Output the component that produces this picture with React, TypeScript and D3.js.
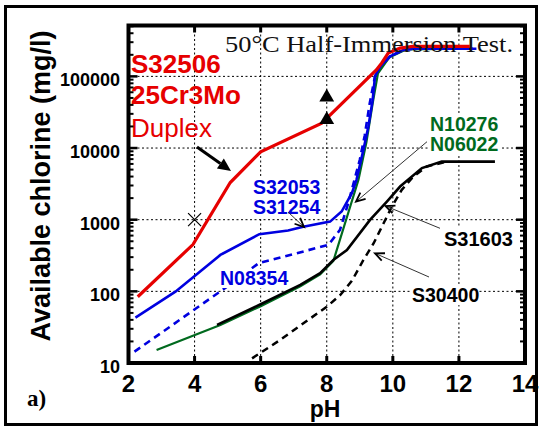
import React from "react";
import * as d3 from "d3";

// ---------- data ----------
const X_TICKS = [2, 4, 6, 8, 10, 12, 14];
const Y_TICKS = [10, 100, 1000, 10000, 100000];
const Y_TICK_LABELS = ["10", "100", "1000", "10000", "100000"];
const GRID_X = [4, 6, 8, 10, 12];
const GRID_Y = [100, 1000, 10000, 100000];

const s32506PH = [2.28, 3.95, 5.08, 6.0, 7.85, 9.5, 9.66, 9.86, 10.22, 10.6, 12.33];
const s32506Cl = [84, 450, 3300, 8850, 22300, 123000, 153000, 211000, 248000, 262000, 262000];

const s32053PH = [2.21, 3.42, 4.78, 5.96, 6.83, 7.29, 8.1, 8.45, 8.76, 8.9, 9.11, 9.26, 9.39, 9.46, 9.61, 9.92, 10.32, 10.6, 12.53];
const s32053Cl = [43, 99, 322, 627, 705, 795, 940, 1300, 2350, 3600, 9450, 20000, 47000, 100000, 137000, 190000, 234000, 243000, 243000];

const n08354PH = [2.18, 4.98, 5.94, 8.05, 8.4, 8.65, 9.0, 9.15, 9.3, 9.46, 9.61, 9.92, 10.32, 10.6, 12.53];
const n08354Cl = [14.4, 116, 247, 445, 721, 1700, 6840, 15000, 42000, 100000, 137000, 190000, 234000, 243000, 243000];

const n10276PH = [2.85, 4.78, 6.0, 7.2, 7.8, 8.2, 8.96, 9.2, 9.4, 9.55, 9.9, 10.4, 12.3];
const n10276Cl = [15.2, 34, 62, 118, 172, 265, 3600, 12000, 45000, 110000, 185000, 238000, 243000];

const s31603PH = [4.68, 6.0, 7.2, 7.8, 8.2, 8.61, 9.31, 9.82, 10.22, 10.88, 11.48, 13.09];
const s31603Cl = [34, 66, 123, 179, 274, 378, 993, 1790, 2900, 5250, 6470, 6470];

const s30400PH = [5.74, 6.59, 8.0, 8.41, 8.76, 9.11, 9.42, 9.67, 9.97, 10.27, 10.62, 11.03, 11.63];
const s30400Cl = [11.6, 21, 61, 89, 140, 274, 470, 802, 1520, 2610, 4000, 5520, 6470];

const crossPH = [4];
const crossCl = [1000];
const trianglePH = [8, 8];
const triangleCl = [51000, 24800];

// ---------- layout ----------
const W = 542;
const H = 430;
const L = 128.5;
const R = 525;
const T = 25.5;
const B = 363;

const RED = "#e60000";
const BLUE = "#0000e0";
const GREEN = "#006a1e";
const SANS = "'Liberation Sans', Arial, Helvetica, sans-serif";
const SERIF = "'Liberation Serif', 'Times New Roman', serif";

const x = d3.scaleLinear().domain([2, 14]).range([L, R]);
const y = d3.scaleLog().domain([10, Math.pow(10, 5.71)]).range([B, T]);

function zip(a: number[], b: number[]): [number, number][] {
  return a.map((v, i) => [v, b[i]]);
}

const line = d3
  .line<[number, number]>()
  .x((d) => x(d[0]))
  .y((d) => y(d[1]));

function Arrow({ x1, y1, x2, y2, thick }: { x1: number; y1: number; x2: number; y2: number; thick?: boolean }) {
  const ang = Math.atan2(y2 - y1, x2 - x1);
  if (thick) {
    const len = 13;
    const hw = 6;
    const bx = x2 - len * Math.cos(ang);
    const by = y2 - len * Math.sin(ang);
    const px = -Math.sin(ang) * hw;
    const py = Math.cos(ang) * hw;
    return (
      <g>
        <line x1={x1} y1={y1} x2={bx} y2={by} stroke="#000" strokeWidth={3} />
        <polygon points={`${x2},${y2} ${bx + px},${by + py} ${bx - px},${by - py}`} fill="#000" />
      </g>
    );
  }
  const len = 10;
  const a = 0.42;
  const p1 = [x2 - len * Math.cos(ang - a), y2 - len * Math.sin(ang - a)];
  const p2 = [x2 - len * Math.cos(ang + a), y2 - len * Math.sin(ang + a)];
  return (
    <g>
      <line x1={x1} y1={y1} x2={x2} y2={y2} stroke="#333" strokeWidth={1} />
      <polyline
        points={`${p1[0]},${p1[1]} ${x2},${y2} ${p2[0]},${p2[1]}`}
        fill="none"
        stroke="#000"
        strokeWidth={1.8}
      />
    </g>
  );
}

export default function App() {
  const minor: number[] = [];
  for (let d = 10; d <= 100000; d *= 10) {
    for (let m = 2; m <= 9; m++) {
      const v = m * d;
      if (v <= Math.pow(10, 5.71)) minor.push(v);
    }
  }
  const tri = d3.symbol().type(d3.symbolTriangle).size(95)();

  return (
    <svg
      width={W}
      height={H}
      viewBox={`0 0 ${W} ${H}`}
      style={{ position: "absolute", left: 0, top: 0, background: "#fff" }}
    >
      <rect x={0} y={0} width={W} height={H} fill="#fff" />
      <rect x={5.5} y={6.5} width={531} height={418} fill="none" stroke="#000" strokeWidth={3} />

      {/* grid */}
      {GRID_X.map((v) => (
        <line key={"gx" + v} x1={x(v)} x2={x(v)} y1={T} y2={B} stroke="#000" strokeWidth={1} strokeDasharray="2,2.5" />
      ))}
      {GRID_Y.map((v) => (
        <line key={"gy" + v} x1={L} x2={R} y1={y(v)} y2={y(v)} stroke="#000" strokeWidth={1} strokeDasharray="2,2.5" />
      ))}

      {/* series */}
      <path d={line(zip(s30400PH, s30400Cl)) || ""} fill="none" stroke="#000" strokeWidth={2.5} strokeDasharray="7,5" />
      <path d={line(zip(n10276PH, n10276Cl)) || ""} fill="none" stroke={GREEN} strokeWidth={2.2} />
      <path d={line(zip(s31603PH, s31603Cl)) || ""} fill="none" stroke="#000" strokeWidth={2.6} />
      <path d={line(zip(s32053PH, s32053Cl)) || ""} fill="none" stroke={BLUE} strokeWidth={2.6} />
      <path d={line(zip(n08354PH, n08354Cl)) || ""} fill="none" stroke={BLUE} strokeWidth={2.6} strokeDasharray="7,5" />
      <path d={line(zip(s32506PH, s32506Cl)) || ""} fill="none" stroke={RED} strokeWidth={3.2} />

      {/* markers */}
      {crossPH.map((v, i) => (
        <path
          key={"c" + i}
          d={`M${x(v) - 6.5},${y(crossCl[i]) - 6.5}L${x(v) + 6.5},${y(crossCl[i]) + 6.5}M${x(v) - 6.5},${y(crossCl[i]) + 6.5}L${x(v) + 6.5},${y(crossCl[i]) - 6.5}`}
          stroke="#000"
          strokeWidth={1.2}
        />
      ))}
      {trianglePH.map((v, i) => (
        <path key={"t" + i} d={tri || ""} transform={`translate(${x(v)},${y(triangleCl[i])})`} fill="#000" />
      ))}

      {/* label knockouts */}
      <rect x={218} y={269} width={71} height={19} fill="#fff" />
      <rect x={251} y={178} width={70} height={39} fill="#fff" />
      <rect x={428} y={114} width={72} height={40} fill="#fff" />
      <rect x={442} y={228} width={72} height={20} fill="#fff" />
      <rect x={410} y={286} width={69} height={19} fill="#fff" />

      {/* labels */}
      <g fontFamily={SANS} fontWeight="bold">
        <text x={131} y={73} fontSize={26} fill={RED}>S32506</text>
        <text x={131} y={103.5} fontSize={26} fill={RED}>25Cr3Mo</text>
        <text x={131} y={137} fontSize={26} fontWeight="normal" fill={RED}>Duplex</text>
        <text x={253} y={194} fontSize={19.5} fill={BLUE}>S32053</text>
        <text x={253} y={214} fontSize={19.5} fill={BLUE}>S31254</text>
        <text x={220} y={285} fontSize={19.5} fill={BLUE}>N08354</text>
        <text x={430} y={131} fontSize={19.5} fill={GREEN}>N10276</text>
        <text x={430} y={151} fontSize={19.5} fill={GREEN}>N06022</text>
        <text x={444} y={245.5} fontSize={20} fill="#000">S31603</text>
        <text x={412} y={301.5} fontSize={19.5} fill="#000">S30400</text>
      </g>

      <text x={225} y={52} fontFamily={SERIF} fontSize={24} textLength={288} lengthAdjust="spacingAndGlyphs" fill="#111">
        50°C Half-Immersion Test.
      </text>

      {/* arrows */}
      <Arrow x1={197} y1={147} x2={231} y2={171} thick />
      <Arrow x1={288} y1={212} x2={304} y2={227} />
      <Arrow x1={427} y1={141.7} x2={356} y2={201.7} />
      <Arrow x1={440} y1={228.3} x2={385.5} y2={206} />
      <Arrow x1={429} y1={277} x2={375} y2={253.3} />

      {/* axis ticks */}
      {minor.map((v) => (
        <g key={"m" + v}>
          <line x1={L} x2={L + 5} y1={y(v)} y2={y(v)} stroke="#000" strokeWidth={2} />
          <line x1={R} x2={R - 5} y1={y(v)} y2={y(v)} stroke="#000" strokeWidth={2} />
        </g>
      ))}
      {Y_TICKS.map((v) => (
        <g key={"M" + v}>
          <line x1={L} x2={L + 9} y1={y(v)} y2={y(v)} stroke="#000" strokeWidth={2.5} />
          <line x1={R} x2={R - 9} y1={y(v)} y2={y(v)} stroke="#000" strokeWidth={2.5} />
        </g>
      ))}
      {GRID_X.map((v) => (
        <g key={"xt" + v}>
          <line x1={x(v)} x2={x(v)} y1={B} y2={B - 7} stroke="#000" strokeWidth={3} />
          <line x1={x(v)} x2={x(v)} y1={T} y2={T + 7} stroke="#000" strokeWidth={3} />
        </g>
      ))}

      {/* plot frame */}
      <rect x={L} y={T} width={R - L} height={B - T} fill="none" stroke="#000" strokeWidth={4} />

      {/* tick labels */}
      <g fontFamily={SANS} fontWeight="bold" fill="#000">
        {Y_TICKS.map((v, i) => (
          <text key={"yl" + v} x={120} y={y(v) + 10} fontSize={18} textAnchor="end">
            {Y_TICK_LABELS[i]}
          </text>
        ))}
        {X_TICKS.map((v) => (
          <text key={"xl" + v} x={x(v)} y={392} fontSize={24} textAnchor="middle">
            {v}
          </text>
        ))}
        <text x={325} y={417} fontSize={23} textAnchor="middle">pH</text>
        <text transform="translate(50,186) rotate(-90)" fontSize={27} textAnchor="middle">
          Available chlorine (mg/l)
        </text>
      </g>
      <text x={27} y={406} fontFamily={SERIF} fontWeight="bold" fontSize={23} fill="#000">a)</text>
    </svg>
  );
}
